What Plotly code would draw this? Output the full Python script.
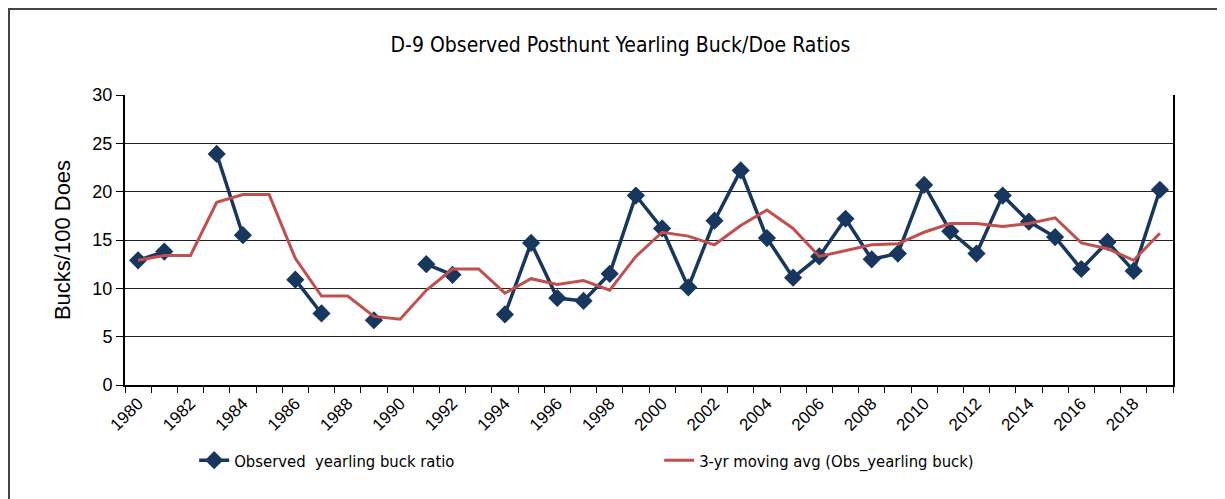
import plotly.graph_objects as go

# posthunt yearling buck/doe ratios, D-9
YEARS = list(range(1980, 2020))

OBSERVED = [12.9, 13.8, None, 23.9, 15.5, None, 10.9, 7.4, None, 6.7,
            None, 12.5, 11.4, None, 7.3, 14.7, 9.0, 8.7, 11.5, 19.6,
            16.2, 10.1, 17.0, 22.2, 15.2, 11.1, 13.3, 17.2, 13.0, 13.6,
            20.7, 15.9, 13.6, 19.6, 16.9, 15.3, 12.0, 14.8, 11.8, 20.2]

MOVING_AVG = [12.9, 13.4, 13.4, 18.9, 19.7, 19.7, 13.1, 9.2, 9.2, 7.1,
              6.8, 9.8, 12.0, 12.0, 9.5, 11.0, 10.4, 10.8, 9.8, 13.3,
              15.8, 15.4, 14.5, 16.5, 18.1, 16.2, 13.3, 13.9, 14.5, 14.6,
              15.8, 16.7, 16.7, 16.4, 16.7, 17.3, 14.7, 14.1, 12.9, 15.7]

TICK_YEARS = list(range(1980, 2019, 2))

FONT = "Liberation Sans, Arial, sans-serif"
FONT_NARROW = "DejaVu Sans Condensed, sans-serif"

fig = go.Figure()

fig.add_trace(go.Scatter(x=YEARS, y=OBSERVED,
                         mode="lines+markers",
                         name="Observed  yearling buck ratio",
                         connectgaps=False,
                         line=dict(color="#17375E", width=3.5),
                         marker=dict(symbol="diamond", size=14, color="#17375E")))

fig.add_trace(go.Scatter(x=YEARS, y=MOVING_AVG,
                         mode="lines",
                         name="3-yr moving avg (Obs_yearling buck)",
                         line=dict(color="#C0504D", width=3)))

fig.update_layout(
    width=1225, height=499,
    margin=dict(l=117, r=60, t=87, b=122),
    paper_bgcolor="#FFFFFF",
    plot_bgcolor="#FFFFFF",
    title=dict(text="D-9 Observed Posthunt Yearling Buck/Doe Ratios",
               x=0.5, xanchor="center", y=0.926, yanchor="middle",
               font=dict(family=FONT_NARROW, size=21, color="#000000")),
    legend=dict(orientation="h", x=0.066, y=-0.26,
                xanchor="left", yanchor="middle",
                entrywidth=420, entrywidthmode="pixels",
                font=dict(family=FONT_NARROW, size=16.5, color="#000000")),
    xaxis=dict(
        range=[1979.5, 2019.5],
        tickmode="array", tickvals=TICK_YEARS,
        ticktext=[str(y) for y in TICK_YEARS],
        tickangle=-45,
        ticks="", showgrid=False, zeroline=False,
        showline=True, linecolor="#000000", linewidth=2,
        tickfont=dict(family=FONT, size=17, color="#000000"),
        minor=dict(tickmode="linear", tick0=1979.5, dtick=1,
                   ticks="outside", ticklen=6, tickcolor="#000000",
                   showgrid=False),
    ),
    yaxis=dict(
        range=[0, 30], dtick=5,
        ticks="outside", ticklen=7, tickcolor="#000000",
        showgrid=True, gridcolor="#222222", gridwidth=1,
        zeroline=False,
        showline=True, linecolor="#000000", linewidth=2, mirror=True,
        tickfont=dict(family=FONT, size=18, color="#000000"),
        title=dict(text="Bucks/100 Does", standoff=16,
                   font=dict(family=FONT, size=22, color="#000000")),
    ),
    showlegend=True,
)

# outer chart frame (only left and top edges fall inside the picture)
fig.add_shape(type="rect", xref="paper", yref="paper",
              x0=-0.1107, x1=1.2, y0=-0.5, y1=1.2966,
              line=dict(color="#444444", width=2), layer="below")

fig.write_html("out.html")
